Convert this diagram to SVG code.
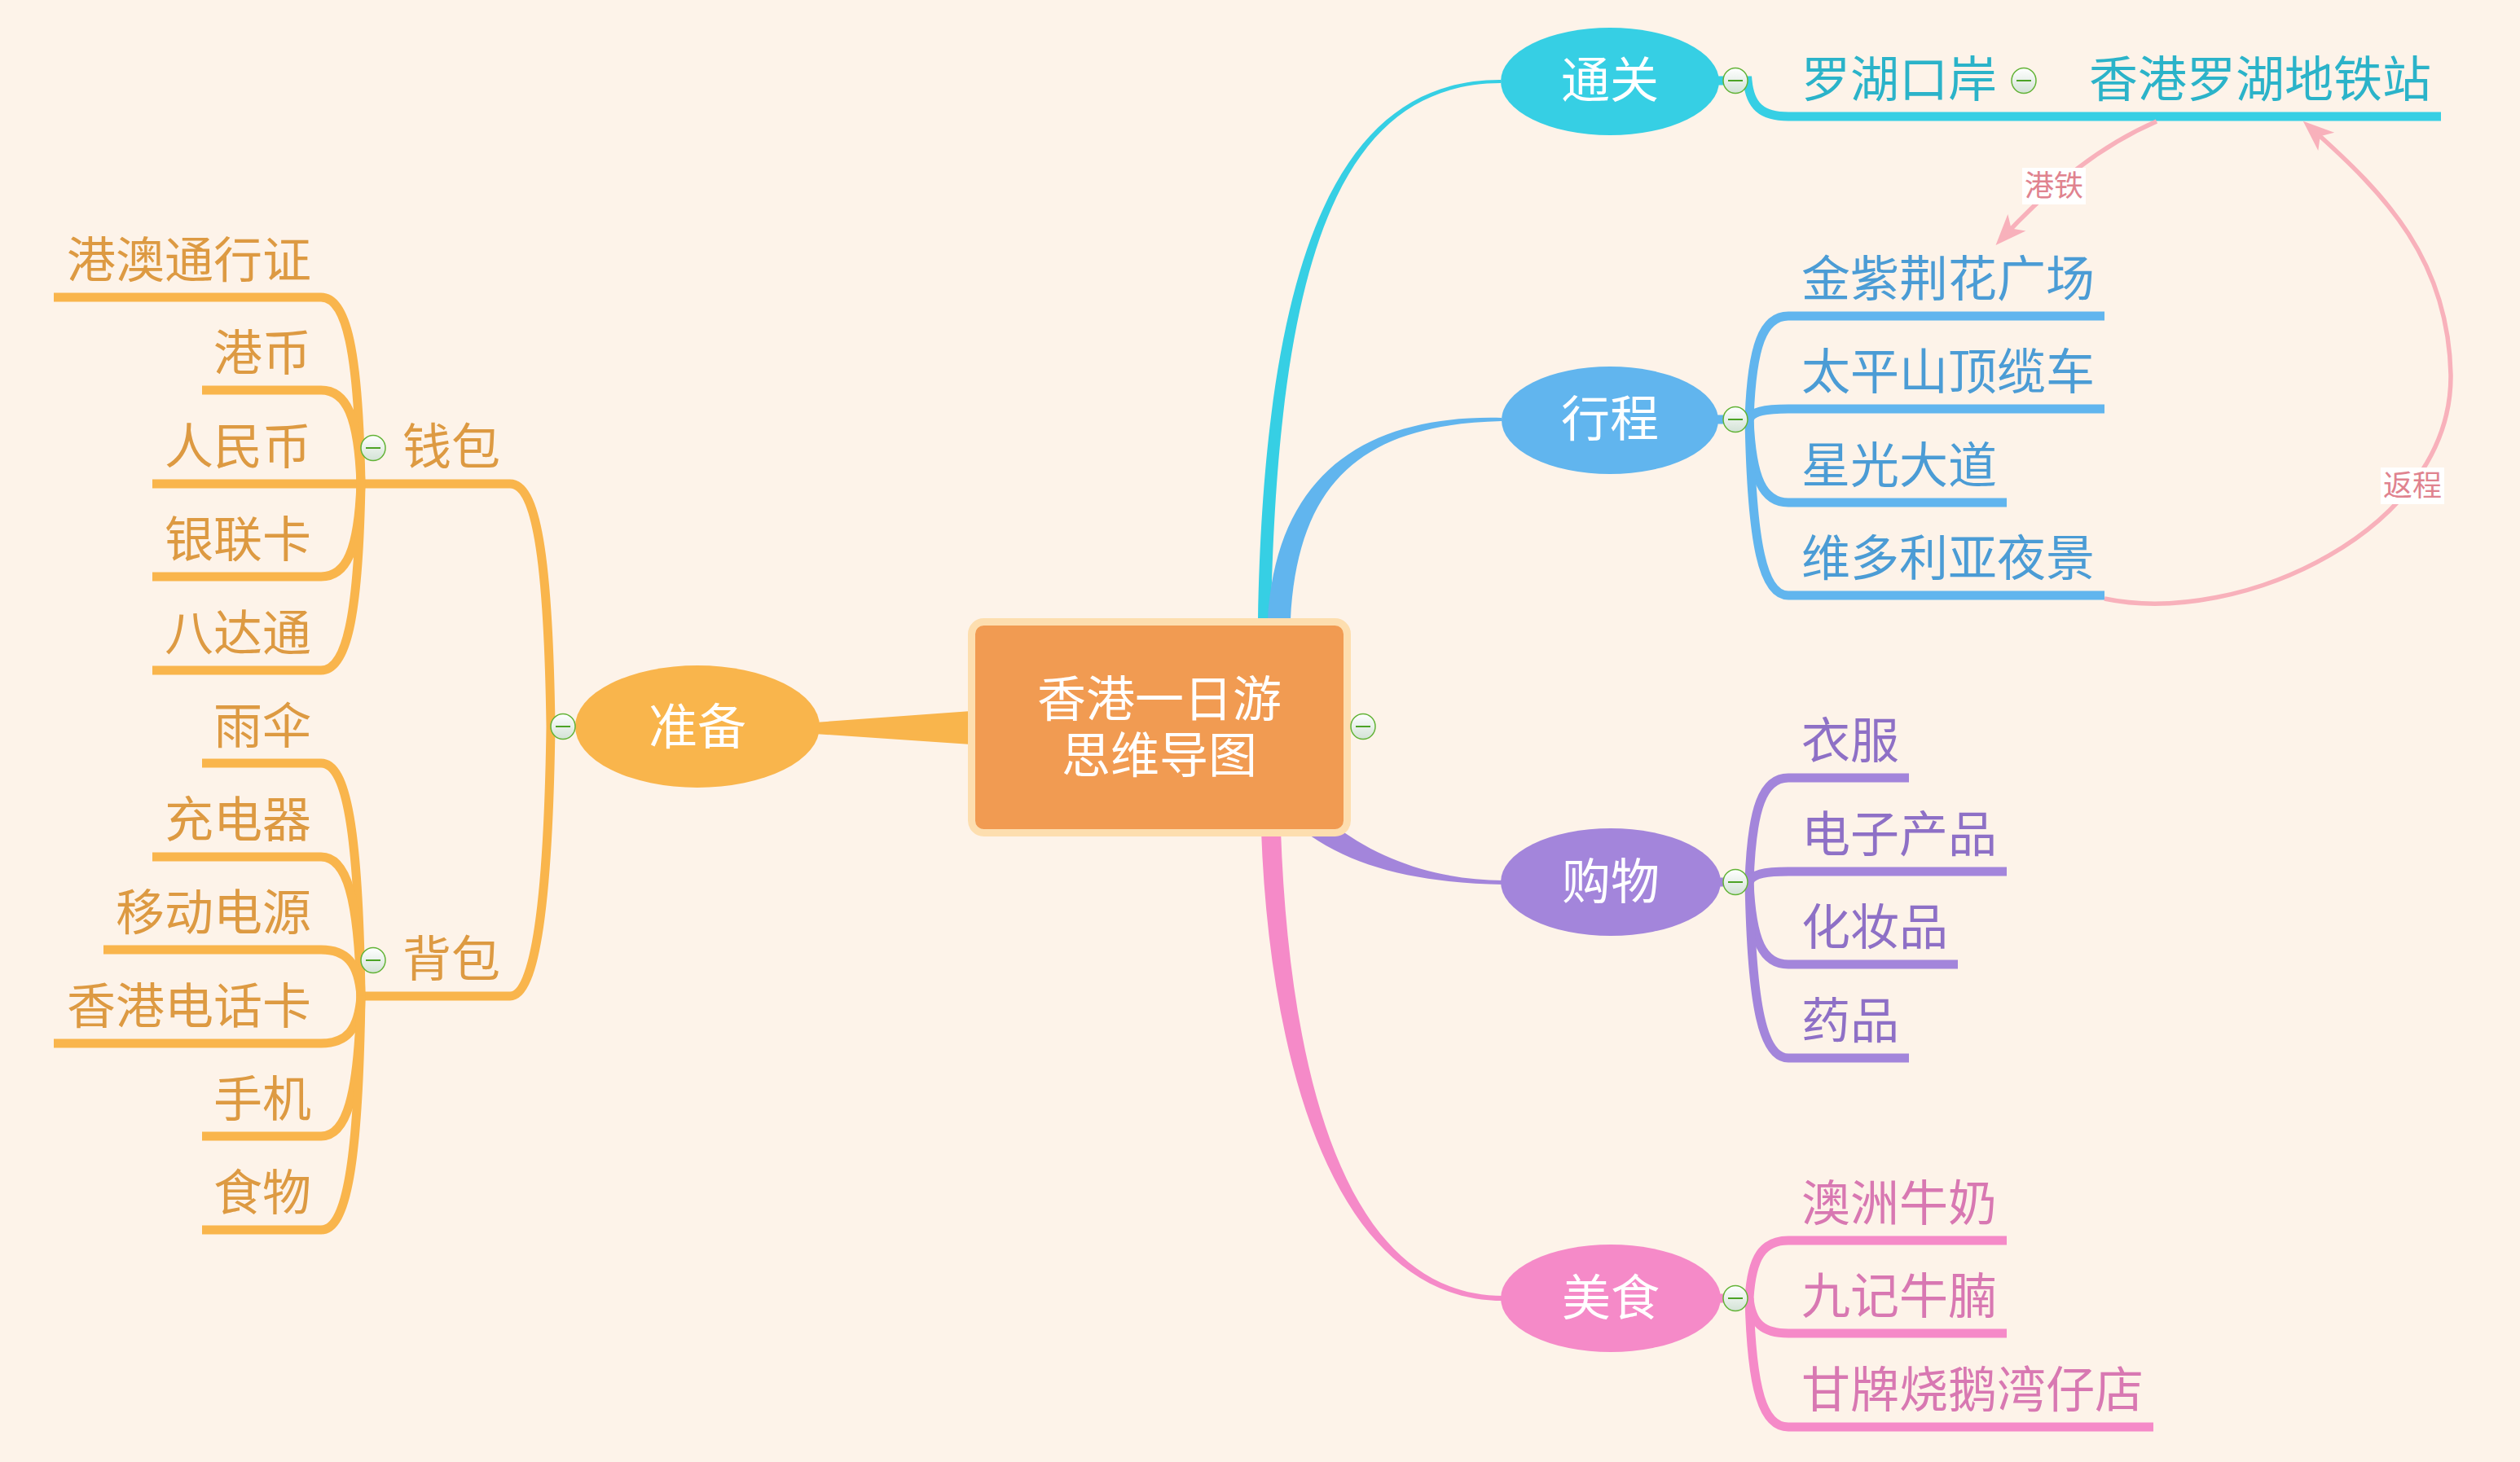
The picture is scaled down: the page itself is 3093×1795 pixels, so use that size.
<svg xmlns="http://www.w3.org/2000/svg" xmlns:xlink="http://www.w3.org/1999/xlink" width="3093" height="1795" viewBox="0 0 3093 1795">
<defs>
<style>
.t{font-family:"Noto Sans CJK SC","Noto Sans",sans-serif;font-size:60px}
.w{fill:#ffffff}
.cor{fill:#DD9A42}
.ccy{fill:#2BB3C9}
.cbl{fill:#4B9CD5}
.cpu{fill:#8E70C6}
.cpk{fill:#D878B2}
.lor{fill:none;stroke:#F9B54C;stroke-width:11}
.lcy{fill:none;stroke:#36CFE4;stroke-width:11}
.lbl{fill:none;stroke:#61B5EE;stroke-width:11}
.lpu{fill:none;stroke:#A385DB;stroke-width:11}
.lpk{fill:none;stroke:#F58AC8;stroke-width:11}
.rel{fill:none;stroke:#F8B1BB;stroke-width:5.5}
.rlab{font-family:"Noto Sans CJK SC","Noto Sans",sans-serif;font-size:36px;fill:#E0838F;text-anchor:middle}
</style>
<linearGradient id="cg" x1="0" y1="0" x2="0" y2="1">
<stop offset="0" stop-color="#FFFFFF"/>
<stop offset="1" stop-color="#D3E2D6"/>
</linearGradient>
<g id="col">
<ellipse cx="0" cy="0" rx="15" ry="15.5" fill="url(#cg)" stroke="#62B336" stroke-width="1.5"/>
<line x1="-9" y1="0" x2="9" y2="0" stroke="#4DA326" stroke-width="2"/>
</g>
<marker id="ah" markerUnits="userSpaceOnUse" viewBox="0 0 44 34" markerWidth="44" markerHeight="34" refX="29" refY="17" orient="auto">
<path d="M 40 17 L 2 2 L 12 17 L 2 32 Z" fill="#F8B1BB"/>
</marker>
</defs>
<rect x="0" y="0" width="3093" height="1795" fill="#FDF3E9"/>

<g id="connectors">
<path d="M 1544 761 C 1552 300 1650 97 1842 98 L 1842 102 C 1652 103 1568 300 1560 761 Z" fill="#36CFE4"/>
<path d="M 1556 761 C 1567 578 1680 509 1843 513 L 1843 517 C 1682 521 1593 582 1584 761 Z" fill="#61B5EE"/>
<path d="M 1640 1015 C 1700 1060 1770 1080 1845 1081 L 1845 1086 C 1740 1084 1660 1065 1600 1020 Z" fill="#A385DB"/>
<path d="M 1548 1020 C 1558 1300 1636 1597 1845 1597 L 1845 1591 C 1644 1591 1582 1300 1572 1020 Z" fill="#F58AC8"/>
<polygon points="1000,887 1192,873 1192,914 1000,901" fill="#F9B54C"/>

<path class="lor" d="M 706 892 H 676"/>
<path class="lor" d="M 676 892 C 673 677 657 594 626 594 H 187"/>
<path class="lor" d="M 676 892 C 673 1107 657 1223 626 1223 H 443"/>
<path class="lor" d="M 66 365 H 394 C 425 365 440 429 443 594"/>
<path class="lor" d="M 248 479 H 394 C 425 479 440 511 443 594"/>
<path class="lor" d="M 187 708 H 394 C 425 708 440 676 443 594"/>
<path class="lor" d="M 187 823 H 394 C 425 823 440 759 443 594"/>
<path class="lor" d="M 248 937 H 394 C 425 937 440 1017 443 1223"/>
<path class="lor" d="M 187 1052 H 394 C 425 1052 440 1100 443 1223"/>
<path class="lor" d="M 127 1166 H 394 C 425 1166 440 1182 443 1223"/>
<path class="lor" d="M 66 1281 H 394 C 425 1281 440 1265 443 1223"/>
<path class="lor" d="M 248 1395 H 394 C 425 1395 440 1347 443 1223"/>
<path class="lor" d="M 248 1510 H 394 C 425 1510 440 1430 443 1223"/>

<path class="lcy" d="M 2108 99 H 2145 C 2148 130 2162 143 2195 143 H 2996"/>

<path class="lbl" d="M 2108 515 H 2147"/>
<path class="lbl" d="M 2147 515 C 2150 424 2164 388 2195 388 H 2583"/>
<path class="lbl" d="M 2147 515 C 2150 506 2164 502 2195 502 H 2583"/>
<path class="lbl" d="M 2147 515 C 2150 588 2164 617 2195 617 H 2463"/>
<path class="lbl" d="M 2147 515 C 2150 670 2164 731 2195 731 H 2583"/>

<path class="lpu" d="M 2108 1083 H 2147"/>
<path class="lpu" d="M 2147 1083 C 2150 991 2164 955 2195 955 H 2343"/>
<path class="lpu" d="M 2147 1083 C 2150 1074 2164 1070 2195 1070 H 2463"/>
<path class="lpu" d="M 2147 1083 C 2150 1156 2164 1184 2195 1184 H 2403"/>
<path class="lpu" d="M 2147 1083 C 2150 1238 2164 1299 2195 1299 H 2343"/>

<path class="lpk" d="M 2108 1594 H 2147"/>
<path class="lpk" d="M 2147 1594 C 2150 1543 2164 1523 2195 1523 H 2463"/>
<path class="lpk" d="M 2147 1594 C 2150 1625 2164 1637 2195 1637 H 2463"/>
<path class="lpk" d="M 2147 1594 C 2150 1708 2164 1752 2195 1752 H 2643"/>

<path class="rel" d="M 2647 149 C 2580 178 2520 225 2457 293" marker-end="url(#ah)"/>
<path class="rel" d="M 2583 735 C 2750 770 3010 650 3008 460 C 3005 320 2930 240 2835 156" marker-end="url(#ah)"/>
<g id="rel-label-gangtie">
<rect x="2482" y="206" width="78" height="45" fill="#FFFFFF"/>
<text class="rlab" x="2521" y="241">港铁</text>
</g>
<g id="rel-label-fancheng">
<rect x="2922" y="574" width="78" height="45" fill="#FFFFFF"/>
<text class="rlab" x="2961" y="609">返程</text>
</g>
</g>

<g id="node-center">
<rect x="1192.5" y="763.5" width="461" height="259" rx="15" fill="#F19B52" stroke="#FDDEAF" stroke-width="9"/>
<text class="t w" text-anchor="middle"><tspan x="1423" y="880">香港一日游</tspan><tspan x="1423" y="949">思维导图</tspan></text>
<use xlink:href="#col" x="1673" y="892"/>
</g>

<g id="node-zhunbei">
<ellipse cx="856" cy="892" rx="150" ry="75" fill="#F9B54C"/>
<text class="t w" x="856" y="914" text-anchor="middle">准备</text>
<use xlink:href="#col" x="691" y="892"/>
</g>
<g id="node-qianbao">
<text class="t cor" x="494" y="570">钱包</text>
<use xlink:href="#col" x="458" y="550"/>
</g>
<g id="node-beibao">
<text class="t cor" x="494" y="1199">背包</text>
<use xlink:href="#col" x="458" y="1179"/>
</g>
<g id="leaves-qianbao" class="t cor" text-anchor="end">
<text id="n-gangaotong" x="382" y="341">港澳通行证</text>
<text id="n-gangbi" x="382" y="455">港币</text>
<text id="n-renminbi" x="382" y="570">人民币</text>
<text id="n-yinlian" x="382" y="684">银联卡</text>
<text id="n-badatong" x="382" y="799">八达通</text>
</g>
<g id="leaves-beibao" class="t cor" text-anchor="end">
<text id="n-yusan" x="382" y="913">雨伞</text>
<text id="n-chongdian" x="382" y="1028">充电器</text>
<text id="n-yidong" x="382" y="1142">移动电源</text>
<text id="n-dianhuaka" x="382" y="1257">香港电话卡</text>
<text id="n-shouji" x="382" y="1371">手机</text>
<text id="n-shiwu" x="382" y="1486">食物</text>
</g>

<g id="node-tongguan">
<ellipse cx="1976" cy="100" rx="134" ry="66" fill="#36CFE4"/>
<text class="t w" x="1976" y="120" text-anchor="middle">通关</text>
<use xlink:href="#col" x="2130" y="99"/>
</g>
<g id="node-luohu">
<text class="t ccy" x="2211" y="119">罗湖口岸</text>
<use xlink:href="#col" x="2484" y="99"/>
</g>
<g id="node-luohu-mtr">
<text class="t ccy" x="2564" y="119">香港罗湖地铁站</text>
</g>

<g id="node-xingcheng">
<ellipse cx="1976" cy="516" rx="133" ry="66" fill="#61B5EE"/>
<text class="t w" x="1976" y="536" text-anchor="middle">行程</text>
<use xlink:href="#col" x="2130" y="515"/>
</g>
<g id="leaves-xingcheng" class="t cbl">
<text id="n-jinzijing" x="2211" y="364">金紫荆花广场</text>
<text id="n-taipingshan" x="2211" y="478">太平山顶缆车</text>
<text id="n-xingguang" x="2211" y="593">星光大道</text>
<text id="n-weiduoliya" x="2211" y="707">维多利亚夜景</text>
</g>

<g id="node-gouwu">
<ellipse cx="1977" cy="1083" rx="135" ry="66" fill="#A385DB"/>
<text class="t w" x="1977" y="1104" text-anchor="middle">购物</text>
<use xlink:href="#col" x="2130" y="1083"/>
</g>
<g id="leaves-gouwu" class="t cpu">
<text id="n-yifu" x="2211" y="931">衣服</text>
<text id="n-dianzi" x="2211" y="1046">电子产品</text>
<text id="n-huazhuang" x="2211" y="1160">化妆品</text>
<text id="n-yaopin" x="2211" y="1275">药品</text>
</g>

<g id="node-meishi">
<ellipse cx="1977" cy="1594" rx="135" ry="66" fill="#F58AC8"/>
<text class="t w" x="1977" y="1615" text-anchor="middle">美食</text>
<use xlink:href="#col" x="2130" y="1594"/>
</g>
<g id="leaves-meishi" class="t cpk">
<text id="n-aozhou" x="2211" y="1499">澳洲牛奶</text>
<text id="n-jiuji" x="2211" y="1613">九记牛腩</text>
<text id="n-ganpai" x="2211" y="1728">甘牌烧鹅湾仔店</text>
</g>
</svg>
